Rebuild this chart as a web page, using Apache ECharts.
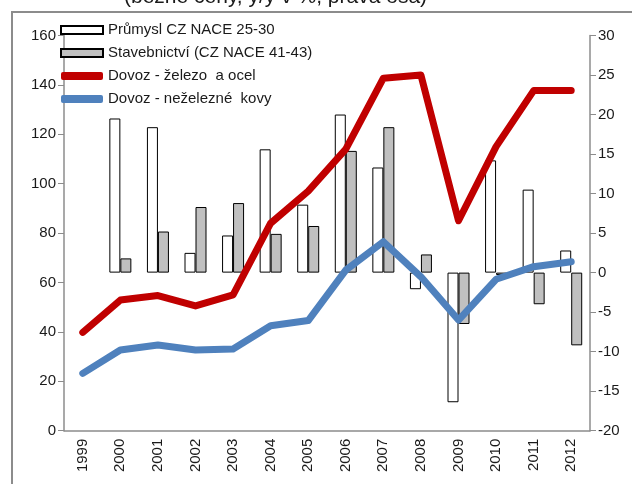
<!DOCTYPE html>
<html>
<head>
<meta charset="utf-8">
<script src="https://cdn.jsdelivr.net/npm/echarts@6/dist/echarts.min.js"></script>
<style>
  html, body { margin: 0; padding: 0; background: #fff; }
  #chart { width: 632px; height: 484px; }
</style>
</head>
<body>
<div id="chart"></div>
<script>
// categories (years)
const years = ['1999', '2000', '2001', '2002', '2003', '2004', '2005', '2006',
  '2007', '2008', '2009', '2010', '2011', '2012'];

// bars, y/y in %, right axis
const prumysl = [null, 19.5, 18.4, 2.5, 4.7, 15.6, 8.6, 20.0, 13.3, -2.1, -16.4, 14.2, 10.5, 2.8];
const stavebnictvi = [null, 1.8, 5.2, 8.3, 8.8, 4.9, 5.9, 15.4, 18.4, 2.3, -6.5, -0.3, -4.0, -9.2];

// lines, left axis
const zelezoOcel = [39.8, 52.9, 54.7, 50.5, 55.0, 84.0, 97.0, 114.0, 142.7, 144.0, 85.0, 115.0, 137.7, 137.7];
const nezelezneKovy = [23.2, 32.7, 34.7, 32.7, 33.1, 42.5, 44.6, 65.0, 76.5, 62.3, 44.8, 61.3, 66.4, 68.4];

const FONT = '"Liberation Sans", Arial, sans-serif';
const AXIS_GRAY = '#8c8c8c';
const TXT = '#1a1a1a';

const chart = echarts.init(document.getElementById('chart'));

chart.setOption({
  animation: false,
  textStyle: { fontFamily: FONT },
  graphic: [
    {
      type: 'rect',
      shape: { x: 12, y: 12, width: 640, height: 490 },
      style: { fill: 'none', stroke: '#8c8c8c', lineWidth: 2 },
      silent: true,
      z: -10
    },
    {
      type: 'text',
      left: 124,
      top: -13,
      style: {
        text: '(běžné ceny, y/y v %, pravá osa)',
        font: '21px ' + FONT,
        fill: TXT
      }
    }
  ],
  legend: {
    orient: 'vertical',
    left: 55,
    top: 16,
    itemWidth: 42,
    itemHeight: 8,
    itemGap: 5,
    textStyle: { fontSize: 15, color: TXT, lineHeight: 18, fontFamily: FONT },
    data: [
      { name: 'Průmysl CZ NACE 25-30', icon: 'rect' },
      { name: 'Stavebnictví (CZ NACE 41-43)', icon: 'rect' },
      { name: 'Dovoz - železo  a ocel', icon: 'roundRect' },
      { name: 'Dovoz - neželezné  kovy', icon: 'roundRect' }
    ]
  },
  grid: { left: 64, right: 42, top: 35.5, bottom: 53.3, containLabel: false },
  xAxis: {
    type: 'category',
    data: years,
    boundaryGap: true,
    axisLine: { lineStyle: { color: AXIS_GRAY, width: 1.5 } },
    axisTick: { length: 6, lineStyle: { color: AXIS_GRAY } },
    axisLabel: { rotate: 90, fontSize: 15, color: TXT, margin: 8 }
  },
  yAxis: [
    {
      type: 'value',
      min: 0,
      max: 160,
      interval: 20,
      position: 'left',
      axisLine: { show: true, lineStyle: { color: AXIS_GRAY, width: 1.5 } },
      axisTick: { show: true, length: 6, lineStyle: { color: AXIS_GRAY } },
      axisLabel: { fontSize: 15, color: TXT, margin: 8 },
      splitLine: { show: false }
    },
    {
      type: 'value',
      min: -20,
      max: 30,
      interval: 5,
      position: 'right',
      axisLine: { show: true, lineStyle: { color: AXIS_GRAY, width: 1.5 } },
      axisTick: { show: true, length: 6, lineStyle: { color: AXIS_GRAY } },
      axisLabel: { fontSize: 15, color: TXT, margin: 8 },
      splitLine: { show: false }
    }
  ],
  series: [
    {
      name: 'Průmysl CZ NACE 25-30',
      type: 'bar',
      yAxisIndex: 1,
      data: prumysl,
      barWidth: 11,
      barGap: '0%',
      itemStyle: { color: '#ffffff', borderColor: '#000000', borderWidth: 1 }
    },
    {
      name: 'Stavebnictví (CZ NACE 41-43)',
      type: 'bar',
      yAxisIndex: 1,
      data: stavebnictvi,
      barWidth: 11,
      barGap: '0%',
      itemStyle: { color: '#c0c0c0', borderColor: '#000000', borderWidth: 1 }
    },
    {
      name: 'Dovoz - železo  a ocel',
      type: 'line',
      yAxisIndex: 0,
      data: zelezoOcel,
      showSymbol: false,
      symbol: 'none',
      z: 5,
      itemStyle: { color: '#c00000' },
      lineStyle: { color: '#c00000', width: 7, join: 'round', cap: 'round' }
    },
    {
      name: 'Dovoz - neželezné  kovy',
      type: 'line',
      yAxisIndex: 0,
      data: nezelezneKovy,
      showSymbol: false,
      symbol: 'none',
      z: 5,
      itemStyle: { color: '#4f81bd' },
      lineStyle: { color: '#4f81bd', width: 7, join: 'round', cap: 'round' }
    }
  ]
});
</script>
</body>
</html>
